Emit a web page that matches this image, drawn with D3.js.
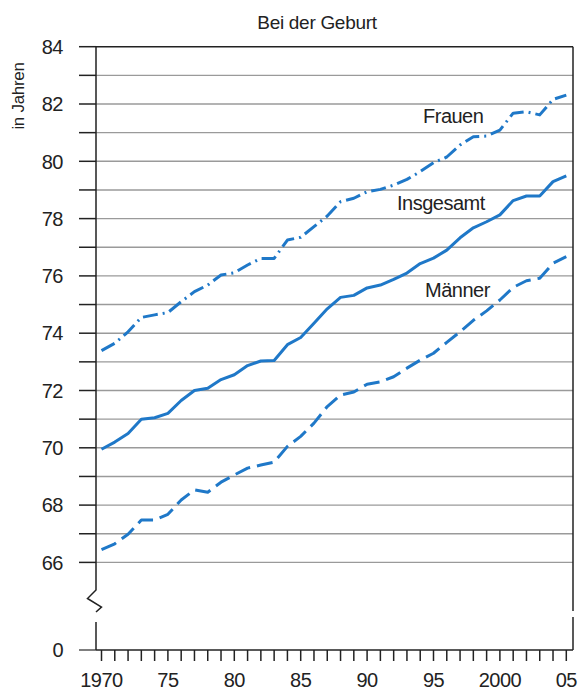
<!DOCTYPE html>
<html><head><meta charset="utf-8">
<script src="https://cdn.jsdelivr.net/npm/d3@7"></script>
<style>
html,body{margin:0;padding:0;background:#fff;}
text{font-family:"Liberation Sans",Arial,Helvetica,sans-serif;fill:#222;}
</style></head>
<body>
<svg id="c" width="578" height="691"></svg>
<script>
const years = d3.range(1970, 2006);
const frauen = [73.39,73.65,74.05,74.55,74.64,74.72,75.10,75.45,75.68,76.03,76.11,76.38,76.61,76.61,77.25,77.35,77.72,78.09,78.59,78.71,78.94,79.02,79.17,79.37,79.64,79.95,80.15,80.57,80.86,80.88,81.09,81.68,81.73,81.62,82.16,82.31];
const insgesamt = [69.95,70.20,70.50,71.00,71.05,71.20,71.65,72.00,72.08,72.38,72.55,72.87,73.03,73.05,73.60,73.85,74.35,74.85,75.25,75.32,75.58,75.68,75.88,76.10,76.43,76.62,76.90,77.33,77.68,77.89,78.13,78.63,78.79,78.79,79.29,79.49];
const maenner = [66.45,66.65,66.98,67.48,67.48,67.68,68.18,68.53,68.45,68.80,69.05,69.29,69.40,69.50,70.05,70.40,70.86,71.44,71.84,71.95,72.22,72.30,72.48,72.78,73.06,73.30,73.68,74.05,74.45,74.78,75.16,75.60,75.83,75.92,76.44,76.67];
const yTickLabels = [0,66,68,70,72,74,76,78,80,82,84];
const gridValues = d3.range(66, 85);
const xTickLabels = {1970:"1970",1975:"75",1980:"80",1985:"85",1990:"90",1995:"95",2000:"2000",2005:"05"};
const seriesNames = ["Frauen","Insgesamt","Männer"];
const title = "Bei der Geburt";
const yTitle = "in Jahren";

(function(){
const svg = d3.select("#c");
const x = d3.scaleLinear().domain([1970, 2005]).range([101.5, 566.3]);
const y = d3.scaleLinear().domain([0, 66, 84]).range([650, 562.4, 46.7]);
const pL = 96, pR = 573, pT = y(84), pB = y(0);
const blue = "#1f78c8";
const axisCol = "#222";

svg.append("g").selectAll("line").data(gridValues.filter(v => v < 84)).join("line")
  .attr("x1", pL).attr("x2", pR).attr("y1", d => y(d)).attr("y2", d => y(d))
  .attr("stroke", "#9a9a9a").attr("stroke-width", 1.4);

svg.append("g").selectAll("line").data(gridValues).join("line")
  .attr("x1", 79).attr("x2", pL).attr("y1", d => y(d)).attr("y2", d => y(d))
  .attr("stroke", axisCol).attr("stroke-width", 1.5);
svg.append("line").attr("x1", 79).attr("x2", pL).attr("y1", y(0)).attr("y2", y(0))
  .attr("stroke", "#555").attr("stroke-width", 1.5);

svg.append("line").attr("x1", pL).attr("x2", pR).attr("y1", pT).attr("y2", pT)
  .attr("stroke", axisCol).attr("stroke-width", 1.5);
svg.append("line").attr("x1", pR).attr("x2", pR).attr("y1", pT).attr("y2", 611)
  .attr("stroke", axisCol).attr("stroke-width", 1.5);
svg.append("line").attr("x1", pR).attr("x2", pR).attr("y1", 617).attr("y2", pB)
  .attr("stroke", axisCol).attr("stroke-width", 1.5);
svg.append("path").attr("d", `M${pL},${pT} L${pL},590 L87.5,598.5 L101.5,607 L${pL},612`)
  .attr("fill", "none").attr("stroke", axisCol).attr("stroke-width", 1.5);
svg.append("line").attr("x1", pL).attr("x2", pL).attr("y1", 622).attr("y2", pB)
  .attr("stroke", axisCol).attr("stroke-width", 1.5);
svg.append("line").attr("x1", pL).attr("x2", pR).attr("y1", pB).attr("y2", pB)
  .attr("stroke", axisCol).attr("stroke-width", 1.5);
svg.append("g").selectAll("line").data(years).join("line")
  .attr("x1", d => x(d)).attr("x2", d => x(d)).attr("y1", pB).attr("y2", pB + 11)
  .attr("stroke", axisCol).attr("stroke-width", 1.5);

svg.append("g").selectAll("text").data(yTickLabels).join("text")
  .attr("x", 63).attr("y", d => y(d)).attr("dy", "0.36em")
  .attr("text-anchor", "end").attr("font-size", 20).attr("letter-spacing", -0.5)
  .text(d => d);
svg.append("g").selectAll("text").data(years.filter(d => xTickLabels[d])).join("text")
  .attr("x", d => x(d)).attr("y", 687)
  .attr("text-anchor", "middle").attr("font-size", 20).attr("letter-spacing", -0.5)
  .text(d => xTickLabels[d]);

svg.append("text").attr("x", 317).attr("y", 29).attr("text-anchor", "middle")
  .attr("font-size", 19).attr("letter-spacing", -0.3).text(title);
svg.append("text").attr("transform", "translate(24,96) rotate(-90)").attr("text-anchor", "middle")
  .attr("font-size", 17).attr("letter-spacing", -0.3).text(yTitle);

const line = d3.line().x((d, i) => x(years[i])).y(d => y(d));
const series = [
  {name: seriesNames[0], values: frauen, dash: "15,5,2,5"},
  {name: seriesNames[1], values: insgesamt, dash: null},
  {name: seriesNames[2], values: maenner, dash: "16,7"}
];
svg.append("g").selectAll("path").data(series).join("path")
  .attr("d", d => line(d.values))
  .attr("fill", "none").attr("stroke", blue).attr("stroke-width", 3)
  .attr("stroke-linejoin", "round")
  .attr("stroke-dasharray", d => d.dash);

const lab = [
  {t: seriesNames[0], x: 423, y: 123},
  {t: seriesNames[1], x: 397, y: 210},
  {t: seriesNames[2], x: 425, y: 297}
];
svg.append("g").selectAll("text").data(lab).join("text")
  .attr("x", d => d.x).attr("y", d => d.y).attr("font-size", 20).attr("letter-spacing", -0.5)
  .text(d => d.t);
})();
</script>
</body></html>
